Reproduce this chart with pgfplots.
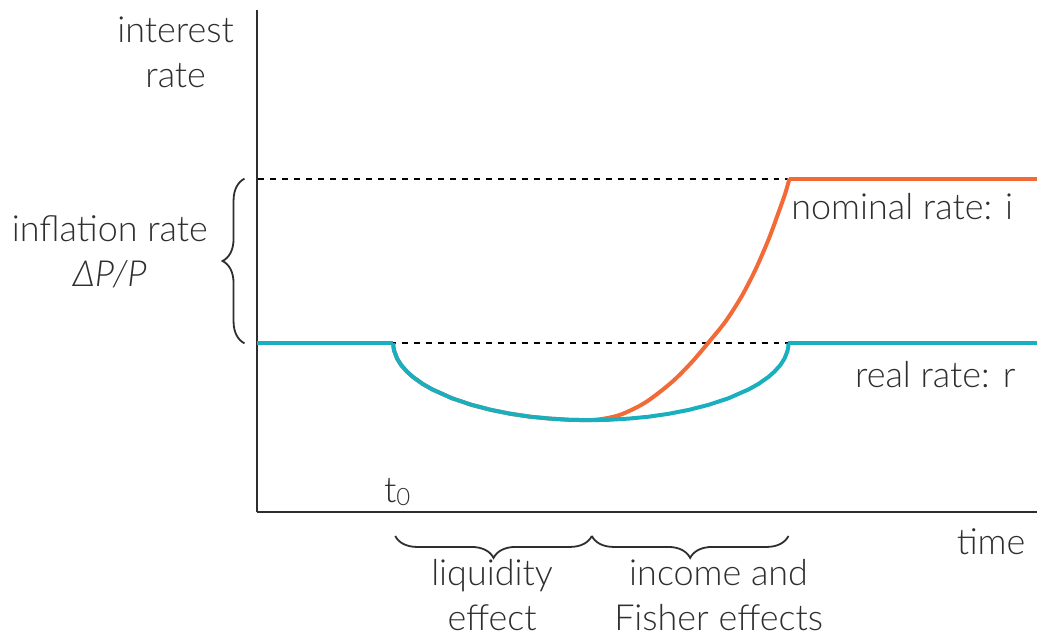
\documentclass[border=0pt]{standalone}
\usepackage{pgfplots}
\pgfplotsset{compat=1.18}
\usepackage{fontspec}
\setmainfont{Lato}[UprightFont={* Light}, ItalicFont={* Light Italic}]
\usetikzlibrary{decorations.pathreplacing}
\definecolor{nomcol}{HTML}{F26A36}
\definecolor{realcol}{HTML}{1AAFBF}
\definecolor{axcol}{HTML}{2E2E2E}
\tikzset{lbl/.style={font=\fontsize{18}{22.5}\selectfont, text=axcol, inner sep=0pt}}

\begin{document}
\begin{tikzpicture}
\begin{axis}[
    x=0.5pt, y=0.5pt,
    xmin=258, xmax=1039, ymin=126, ymax=629,
    axis lines=left,
    axis line style={-, line width=1pt, axcol},
    xtick=\empty, ytick=\empty,
    clip=false,
]
% reference levels
\addplot[black, line width=0.85pt, dash pattern=on 3pt off 3pt] coordinates {(259,460) (790,460)};
\addplot[black, line width=0.85pt, dash pattern=on 3pt off 3pt] coordinates {(259,295) (790,295)};

% nominal rate: i (runs under the real rate until the trough)
\addplot[nomcol, line width=2pt] coordinates {
    (394,295) (394.2,291.6) (395,287.3) (397.9,279.7) (401.8,273.4) (407.7,266.7)
    (413.6,261.4) (423.4,254.4) (433.2,248.8) (452.8,240.0) (472.4,233.4) (492,228.3)
    (511.6,224.4) (531.2,221.5) (550.8,219.6) (570.4,218.4) (590,218)};
\addplot[nomcol, line width=2pt, smooth, tension=0.5] coordinates {
    (590,218) (605,219.5) (623,224) (647,236) (673,256) (693,276) (710,296) (727,317)
    (743,342) (757,369) (770,399) (780,426) (787,446) (791,460)};
\addplot[nomcol, line width=2pt] coordinates {(791,460) (1039,460)};

% real rate: r
\addplot[realcol, line width=2pt] coordinates {(258,295) (394,295)};
\addplot[realcol, line width=2pt] coordinates {
    (394,295) (394.2,291.6) (395,287.3) (397.9,279.7) (401.8,273.4) (407.7,266.7)
    (413.6,261.4) (423.4,254.4) (433.2,248.8) (452.8,240.0) (472.4,233.4) (492,228.3)
    (511.6,224.4) (531.2,221.5) (550.8,219.6) (570.4,218.4) (590,218)
    (610,218.4) (630,219.6) (650,221.5) (670,224.4) (690,228.3) (710,233.4) (730,240.0)
    (750,248.8) (760,254.4) (770,261.4) (776,266.7) (782,273.4) (786,279.7) (789,287.3)
    (789.8,291.6) (790,295)};
\addplot[realcol, line width=2pt] coordinates {(790,295) (1039,295)};

% braces
\draw[axcol, line width=0.9pt, decorate, decoration={brace, amplitude=11pt}]
    (axis cs:245,295) -- (axis cs:245,460);
\draw[axcol, line width=0.9pt, decorate, decoration={brace, amplitude=11pt, mirror}]
    (axis cs:396,102) -- (axis cs:593,102);
\draw[axcol, line width=0.9pt, decorate, decoration={brace, amplitude=11pt, mirror}]
    (axis cs:593,102) -- (axis cs:790,102);

% labels
\node[lbl, align=center] at (axis cs:176,587) {interest\\rate};
\node[lbl, align=center] at (axis cs:110,387) {inflation rate\\\textit{ΔP/P}};
\node[lbl] at (axis cs:398,146) {t\raisebox{-0.15ex}{\fontsize{12}{12}\selectfont 0}};
\node[lbl] at (axis cs:993,96) {time};
\node[lbl, align=center] at (axis cs:493,43) {liquidity\\effect};
\node[lbl, align=center] at (axis cs:720,43) {income and\\Fisher effects};
\node[lbl] at (axis cs:904,432) {nominal rate: i};
\node[lbl] at (axis cs:937,264) {real rate: r};

% page extent
\path (axis cs:0,0) rectangle (axis cs:1039,639);
\end{axis}
\end{tikzpicture}
\end{document}
